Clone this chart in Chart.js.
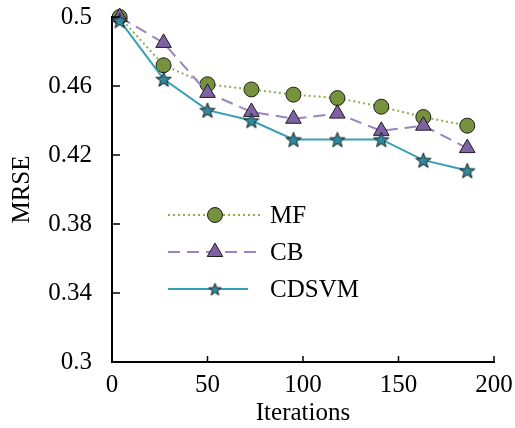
<!DOCTYPE html>
<html>
<head>
<meta charset="utf-8">
<script src="https://cdn.jsdelivr.net/npm/chart.js@4.4.1/dist/chart.umd.min.js"></script>
<style>
  html, body { margin: 0; padding: 0; background: #fff; }
  #wrap { width: 515px; height: 428px; }
</style>
</head>
<body>
<div id="wrap"><canvas id="c" width="515" height="428"></canvas></div>
<script>
/* ---------- data ---------- */
const iterations = [4, 27, 50, 73, 95, 118, 141, 163, 186];
const mfValues = [0.500, 0.472, 0.461, 0.458, 0.455, 0.453, 0.448, 0.442, 0.437];
const cbValues = [0.500, 0.485, 0.456, 0.445, 0.441, 0.444, 0.434, 0.437, 0.424];
const cdsvmValues = [0.498, 0.464, 0.446, 0.440, 0.429, 0.429, 0.429, 0.417, 0.411];
const seriesNames = ["MF", "CB", "CDSVM"];
const yTicks = [0.3, 0.34, 0.38, 0.42, 0.46, 0.5];
const xTicks = [0, 50, 100, 150, 200];

const FONT = "'Liberation Serif', 'Times New Roman', serif";

// filled five-point star used as the CDSVM marker
function makeStar(size, fill) {
    const cv = document.createElement("canvas");
    cv.width = size; cv.height = size;
    const g = cv.getContext("2d");
    const cx = size / 2, cy = size / 2 + 0.8;
    const ro = size / 2 - 1, ri = ro * 0.42;
    g.beginPath();
    for (let i = 0; i < 10; i++) {
        const r = i % 2 === 0 ? ro : ri;
        const a = -Math.PI / 2 + i * Math.PI / 5;
        const px = cx + r * Math.cos(a), py = cy + r * Math.sin(a);
        if (i === 0) g.moveTo(px, py); else g.lineTo(px, py);
    }
    g.closePath();
    g.fillStyle = fill;
    g.fill();
    g.lineWidth = 1;
    g.strokeStyle = "#1e1e1e";
    g.stroke();
    return cv;
}

const starImg = makeStar(18, "#2f8aa0");
const starSmall = makeStar(15, "#2f8aa0");

const toPoints = vals => vals.map((v, i) => ({ x: iterations[i], y: v }));

/* ---------- inward ticks + in-plot legend ---------- */
const decorPlugin = {
    id: "decor",
    afterDraw(chart) {
        const ctx = chart.ctx;
        const xs = chart.scales.x, ys = chart.scales.y;
        const a = chart.chartArea;
        ctx.save();
        ctx.strokeStyle = "#000";
        ctx.lineWidth = 1.5;
        xTicks.forEach(v => {
            const px = xs.getPixelForValue(v);
            if (v === 0) return;
            ctx.beginPath();
            ctx.moveTo(px, a.bottom);
            ctx.lineTo(px, a.bottom - 6);
            ctx.stroke();
        });
        yTicks.forEach(v => {
            const py = ys.getPixelForValue(v);
            if (v === 0.3) return;
            ctx.beginPath();
            ctx.moveTo(a.left, py);
            ctx.lineTo(a.left + 8, py);
            ctx.stroke();
        });

        // legend
        const rows = [215, 252, 289];
        chart.data.datasets.forEach((ds, i) => {
            const y = rows[i];
            const x0 = a.left + 56;
            const x1 = a.left + [148, 144, 136][i];
            const xm = a.left + 103;
            ctx.save();
            ctx.strokeStyle = ds.borderColor;
            ctx.lineWidth = ds.borderWidth;
            ctx.setLineDash(ds.borderDash || []);
            ctx.beginPath();
            ctx.moveTo(x0, y);
            ctx.lineTo(x1, y);
            ctx.stroke();
            ctx.restore();
            ctx.fillStyle = ds.pointBackgroundColor;
            ctx.strokeStyle = ds.pointBorderColor;
            ctx.lineWidth = ds.pointBorderWidth;
            const style = i === 2 ? starSmall : ds.pointStyle;
            Chart.helpers.drawPoint(ctx, {
                pointStyle: style,
                radius: ds.pointRadius,
                rotation: 0,
                borderWidth: ds.pointBorderWidth
            }, xm, y);
            ctx.fillStyle = "#000";
            ctx.font = "25px " + FONT;
            ctx.textBaseline = "middle";
            ctx.textAlign = "left";
            ctx.fillText(seriesNames[i], a.left + 158, y + 1);
        });
        ctx.restore();
    }
};

new Chart(document.getElementById("c"), {
    type: "line",
    data: {
        datasets: [
            {
                label: seriesNames[0],
                data: toPoints(mfValues),
                borderColor: "#8fae4e",
                borderWidth: 2,
                borderDash: [2, 3],
                pointStyle: "circle",
                pointRadius: 7.5,
                pointBackgroundColor: "#76923c",
                pointBorderColor: "#1e1e1e",
                pointBorderWidth: 1,
                order: 3
            },
            {
                label: seriesNames[1],
                data: toPoints(cbValues),
                borderColor: "#9b84c2",
                borderWidth: 2,
                borderDash: [12, 7],
                pointStyle: "triangle",
                pointRadius: 9,
                pointBackgroundColor: "#7f62a4",
                pointBorderColor: "#1e1e1e",
                pointBorderWidth: 1,
                order: 2
            },
            {
                label: seriesNames[2],
                data: toPoints(cdsvmValues),
                borderColor: "#35a0b4",
                borderWidth: 2,
                pointStyle: starImg,
                pointRadius: 9,
                pointBackgroundColor: "#2f8aa0",
                pointBorderColor: "#1e1e1e",
                pointBorderWidth: 1,
                order: 1
            }
        ]
    },
    options: {
        responsive: false,
        animation: false,
        clip: false,
        layout: { padding: { top: 17, right: 21, left: 7, bottom: 0 } },
        plugins: {
            legend: { display: false },
            tooltip: { enabled: false }
        },
        scales: {
            x: {
                type: "linear",
                min: 0,
                max: 200,
                afterBuildTicks: s => { s.ticks = xTicks.map(v => ({ value: v })); },
                afterFit: s => { s.height = 66; s.paddingLeft = 0; s.paddingRight = 0; },
                grid: { display: false, drawTicks: false },
                border: { display: true, color: "#000", width: 2 },
                ticks: { color: "#000", font: { family: FONT, size: 25 }, padding: 8, maxRotation: 0 },
                title: { display: true, text: "Iterations", color: "#000", font: { family: FONT, size: 25, lineHeight: 1 }, padding: { top: 2, bottom: 2 } }
            },
            y: {
                type: "linear",
                min: 0.3,
                max: 0.5,
                afterBuildTicks: s => { s.ticks = yTicks.map(v => ({ value: v })); },
                afterFit: s => { s.width = 105; s.paddingTop = 0; s.paddingBottom = 0; },
                grid: { display: false, drawTicks: false },
                border: { display: true, color: "#000", width: 2 },
                ticks: { color: "#000", font: { family: FONT, size: 25 }, padding: 20, callback: v => String(v) },
                title: { display: true, text: "MRSE", color: "#000", font: { family: FONT, size: 25 }, padding: { top: 0, bottom: 10 } }
            }
        }
    },
    plugins: [decorPlugin]
});
</script>
</body>
</html>
